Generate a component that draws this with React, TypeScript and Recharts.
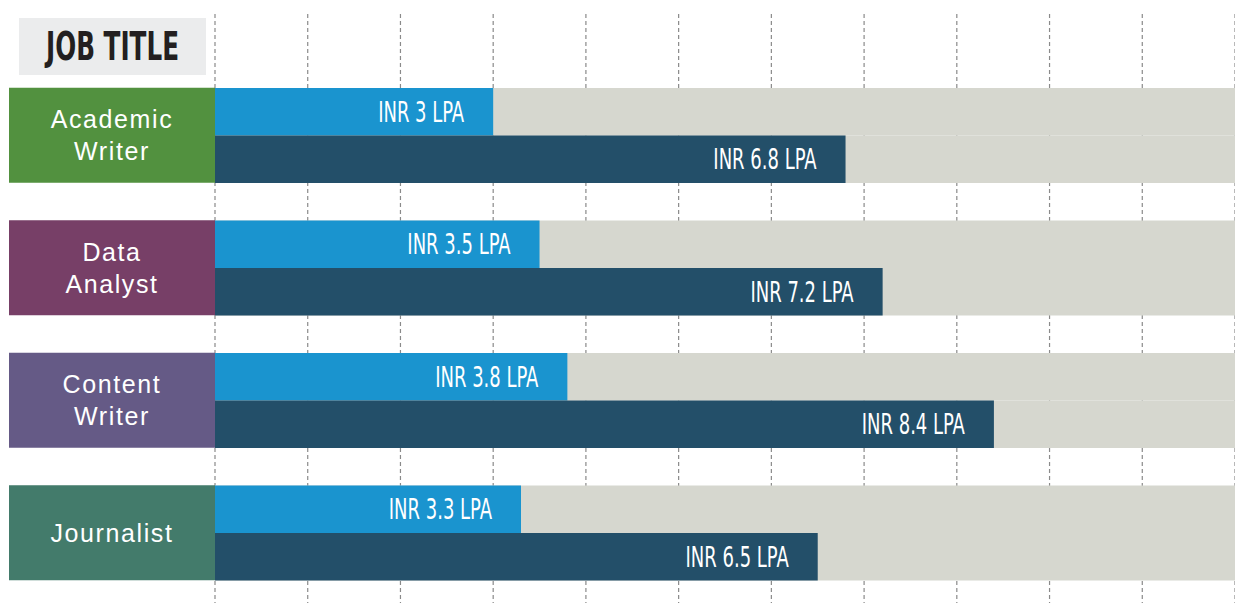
import { BarChart, Bar, XAxis, YAxis, CartesianGrid, LabelList } from 'recharts';

const jobTitles = ['Academic Writer', 'Data Analyst', 'Content Writer', 'Journalist'];
const entrySalary = [3, 3.5, 3.8, 3.3];
const seniorSalary = [6.8, 7.2, 8.4, 6.5];
const salaryTicks = [0, 1, 2, 3, 4, 5, 6, 7, 8, 9, 10, 11];
const titleColors = ['#52913f', '#773f67', '#655a86', '#437b6b'];

const data = jobTitles.map((title, i) => ({
  title,
  entry: entrySalary[i],
  senior: seniorSalary[i],
}));

const BAND = 95;
const LABEL_W = 206;

function TitleTick(props: any) {
  const { x, y, payload } = props;
  const idx = jobTitles.indexOf(payload.value);
  const words: string[] = payload.value.split(' ');
  const lines = words.length > 1 ? words : [payload.value];
  return (
    <g>
      <rect x={x - LABEL_W} y={y - BAND / 2} width={LABEL_W} height={BAND} fill={titleColors[idx]} />
      {lines.map((line, i) => (
        <text
          key={line}
          x={x - LABEL_W / 2}
          y={y + 9 + (i - (lines.length - 1) / 2) * 32}
          textAnchor="middle"
          fill="#ffffff"
          fontSize={25}
          letterSpacing={1.6}
          fontFamily="'Liberation Sans', Arial, sans-serif"
        >
          {line}
        </text>
      ))}
    </g>
  );
}

const renderSalary = (props: any) => {
  const { x, y, width, height, value } = props;
  const endX = x + width - 29;
  const baseY = y + height / 2 + 10;
  return (
    <text
      transform={`translate(${endX},${baseY}) scale(0.69,1)`}
      textAnchor="end"
      fill="#ffffff"
      fontSize={29}
      fontFamily="'Liberation Sans Narrow', 'DejaVu Sans Condensed', sans-serif"
    >
      {`INR ${value} LPA`}
    </text>
  );
};

export default function App() {
  return (
    <div style={{ position: 'absolute', left: 0, top: 0, width: 1235, height: 603, background: '#fff' }}>
      <BarChart
        width={1235}
        height={603}
        data={data}
        layout="vertical"
        margin={{ top: 14, right: 0, bottom: 0, left: 9 }}
        barGap={0}
        barSize={47.5}
      >
        <CartesianGrid horizontal={false} stroke="#8a8a8a" strokeDasharray="4 3" strokeWidth={1.2} />
        <XAxis type="number" domain={[0, 11]} ticks={salaryTicks} hide />
        <YAxis
          type="category"
          dataKey="title"
          width={LABEL_W}
          axisLine={false}
          tickLine={false}
          tickSize={0}
          tickMargin={0}
          padding={{ top: 55, bottom: 4 }}
          tick={<TitleTick />}
        />
        <Bar dataKey="entry" fill="#1a94cf" background={{ fill: '#d6d7cf' }} isAnimationActive={false}>
          <LabelList dataKey="entry" content={renderSalary} />
        </Bar>
        <Bar dataKey="senior" fill="#234f69" background={{ fill: '#d6d7cf' }} isAnimationActive={false}>
          <LabelList dataKey="senior" content={renderSalary} />
        </Bar>
      </BarChart>
      <svg width={240} height={100} style={{ position: 'absolute', left: 0, top: 0, overflow: 'visible' }}>
        <rect x={19} y={18} width={187} height={57} fill="#ebeced" />
        <text
          x={46}
          y={60}
          textLength={133}
          lengthAdjust="spacingAndGlyphs"
          fontSize={39}
          fontWeight="bold"
          fill="#231f20"
          fontFamily="'Liberation Sans Narrow', 'DejaVu Sans Condensed', sans-serif"
        >
          JOB TITLE
        </text>
      </svg>
    </div>
  );
}
